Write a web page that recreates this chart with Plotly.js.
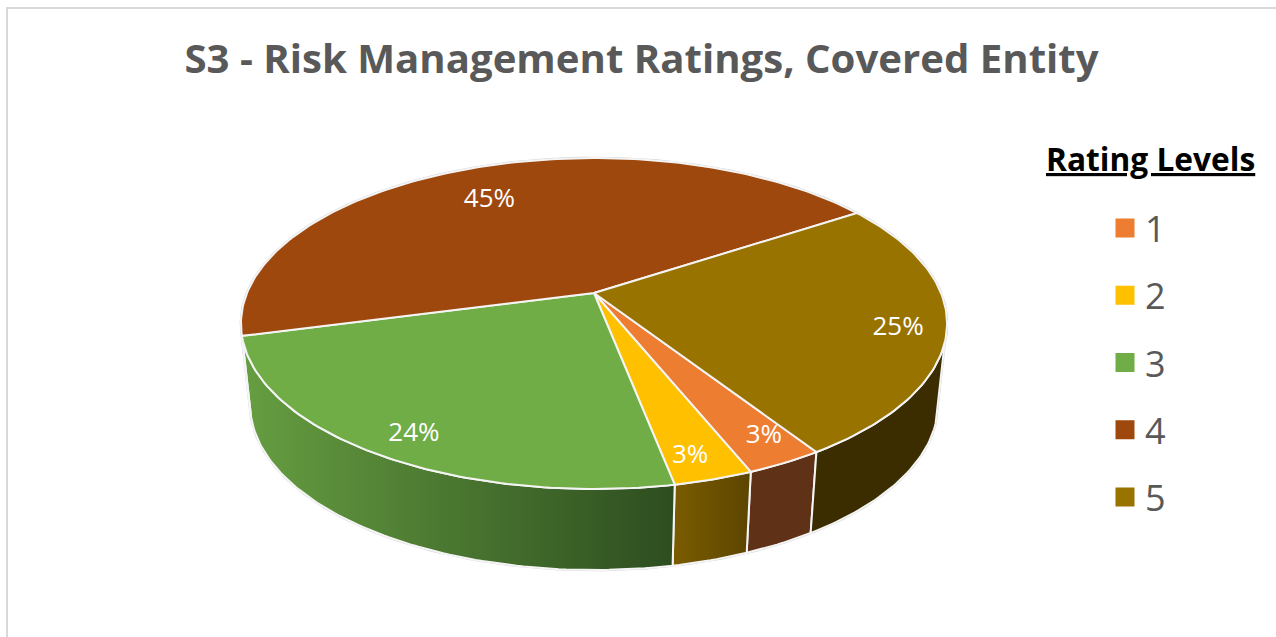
<!DOCTYPE html>
<html>
<head>
<meta charset="utf-8">
<script src="https://cdn.plot.ly/plotly-3.0.1.min.js"></script>
<style>html,body{margin:0;padding:0;background:#fff;overflow:hidden}#chart{width:1276px;height:637px}</style>
</head>
<body>
<div id="chart"></div>
<script>
const categories = ['1', '2', '3', '4', '5'];
const shares = [3.0, 3.06, 23.94, 44.83, 25.17];
const topColors = ['#ED7D31', '#FFC000', '#70AD47', '#9E480E', '#997300'];
const wallLeft = ['#5F3116', '#7B5C00', '#669E41', '#5F2B08', '#3C2D00'];
const wallRight = ['#5F3116', '#5C4500', '#2D4D1F', '#5F2B08', '#3C2D00'];
const labelNudge = [-1.8, 1.1, -1.1, -2.6, 1.1];
const labelReach = [0.864, 0.88, 0.869, 0.754, 0.867];

// Tilted-disc projection of the pie, expressed in the 1276x637 axis units
const FONT = '"Open Sans", "Noto Sans", sans-serif';
const apexX = 594, apexY = 293, radX = 347, radY = 159.9, tilt = 0.1843;
const startAngle = 57.2, depth = 81, baseScale = 0.974, labelDrop = 3;
const wallFrom = 17, wallTo = 165.5;

function project(deg, r) {
  const a = deg * Math.PI / 180, u = r * Math.cos(a), v = r * Math.sin(a), w = 1 - tilt * v;
  return [apexX + radX * u / w, apexY + radY * v / w];
}
const topPoint = deg => project(deg, 1);
function basePoint(deg) {
  const p = topPoint(deg);
  return [apexX + baseScale * (p[0] - apexX), p[1] + depth];
}
function arc(from, to, fn) {
  const pts = [], n = Math.max(2, Math.ceil(Math.abs(to - from)));
  for (let i = 0; i <= n; i++) pts.push(fn(from + (to - from) * i / n));
  return pts;
}

const total = shares.reduce((a, b) => a + b, 0);
const bounds = [];
let acc = startAngle;
shares.forEach(s => { bounds.push([acc, acc + s / total * 360]); acc += s / total * 360; });

const traces = [];

// faint grey silhouette round the whole solid
const hull = arc(wallTo, wallFrom + 360, topPoint).concat(arc(wallFrom, wallTo, basePoint));
hull.push(hull[0]);
traces.push({x: hull.map(p => p[0]), y: hull.map(p => p[1]), mode: 'lines', showlegend: false, hoverinfo: 'skip',
  line: {color: '#cfcfcf', width: 2.5}});

// side walls
bounds.forEach((b, i) => {
  [0, -360].forEach(turn => {
    const from = Math.max(b[0] + turn, wallFrom), to = Math.min(b[1] + turn, wallTo);
    if (to <= from + 0.01) return;
    const pts = arc(from, to, topPoint).concat(arc(to, from, basePoint));
    pts.push(pts[0]);
    traces.push({x: pts.map(p => p[0]), y: pts.map(p => p[1]), mode: 'lines', fill: 'toself', showlegend: false, hoverinfo: 'skip',
      line: {color: '#f5f5f5', width: 2},
      fillgradient: {type: 'horizontal', colorscale: [[0, wallLeft[i]], [1, wallRight[i]]]}});
  });
});

// top faces
bounds.forEach((b, i) => {
  const pts = [[apexX, apexY]].concat(arc(b[0], b[1], topPoint));
  pts.push(pts[0]);
  traces.push({x: pts.map(p => p[0]), y: pts.map(p => p[1]), mode: 'lines', fill: 'toself', fillcolor: topColors[i],
    showlegend: false, name: categories[i], hoverinfo: 'skip', line: {color: '#f4f4f4', width: 2}});
});

// data labels
const labelPts = bounds.map((b, i) => project((b[0] + b[1]) / 2 + labelNudge[i], labelReach[i]));
traces.push({x: labelPts.map(p => p[0]), y: labelPts.map(p => p[1] + labelDrop), mode: 'text', showlegend: false, hoverinfo: 'skip',
  text: shares.map(s => Math.round(s) + '%'), textposition: 'middle center', textfont: {family: FONT, size: 26, color: '#ffffff'}});

// legend keys
categories.forEach((c, i) => {
  traces.push({x: [null], y: [null], mode: 'markers', name: c, legendgroup: 'g' + c, hoverinfo: 'skip',
    marker: {symbol: 'square', size: 16, color: topColors[i], line: {color: topColors[i], width: 3}}});
});

const layout = {
  width: 1276, height: 637,
  margin: {l: 0, r: 0, t: 0, b: 0},
  paper_bgcolor: '#ffffff', plot_bgcolor: '#ffffff',
  title: {text: 'S3 - Risk Management Ratings, Covered Entity', x: 641.5 / 1276, xanchor: 'center', y: 1 - 59 / 637, yanchor: 'middle',
    font: {family: FONT, size: 40.15, weight: 700, color: '#595959'}},
  xaxis: {range: [0, 1276], visible: false, fixedrange: true},
  yaxis: {range: [637, 0], visible: false, fixedrange: true},
  showlegend: true,
  legend: {x: 1105 / 1276, xanchor: 'left', y: 1 - 198 / 637, yanchor: 'top', tracegroupgap: 17.5, itemwidth: 30,
    font: {family: FONT, size: 36, color: '#595959'}, bgcolor: 'rgba(0,0,0,0)', traceorder: 'grouped'},
  annotations: [{text: '<b><u>Rating Levels</u></b>', xref: 'paper', yref: 'paper', x: 1150 / 1276, y: 1 - 159 / 637,
    xanchor: 'center', yanchor: 'middle', showarrow: false, font: {family: FONT, size: 31.7, color: '#000000'}}],
  shapes: [
    {type: 'line', xref: 'x', yref: 'y', x0: 7, x1: 1276, y0: 8, y1: 8, line: {color: '#d9d9d9', width: 2}},
    {type: 'line', xref: 'x', yref: 'y', x0: 7, x1: 7, y0: 7, y1: 637, line: {color: '#d9d9d9', width: 2}}
  ]
};
Plotly.newPlot('chart', traces, layout, {displayModeBar: false, staticPlot: true});
</script>
</body>
</html>
